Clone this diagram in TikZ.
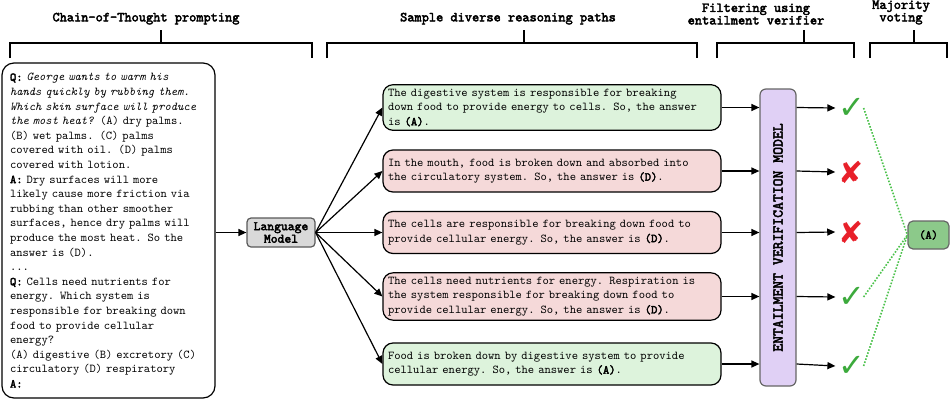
\documentclass[tikz,border=0pt]{standalone}
\usepackage{fontspec}
\setmonofont{lmmono10-regular.otf}[ItalicFont=lmmono10-italic.otf,
    BoldFont=lmmono10-regular.otf, BoldFeatures={FakeBold=3}]
\newfontfamily\symfont{DejaVu Sans}
\usetikzlibrary{positioning}
\usetikzlibrary{arrows.meta}

\definecolor{okfill}{HTML}{DDF3DC}
\definecolor{badfill}{HTML}{F5D9D9}
\definecolor{evfill}{HTML}{E0D0F5}
\definecolor{lmfill}{HTML}{D9D9D9}
\definecolor{ansfill}{HTML}{8CC98A}
\definecolor{okmark}{HTML}{3CAA3C}
\definecolor{badmark}{HTML}{E8202A}
\definecolor{votedot}{HTML}{4CC24C}

\tikzset{
    body/.style={font=\ttfamily\fontsize{12}{14.6}\selectfont},
    header/.style={font=\ttfamily\bfseries\fontsize{13.7}{12.5}\selectfont, align=center, anchor=south},
    bracket/.style={line width=1.2pt},
    path box/.style={body, draw, line width=1.2pt, rounded corners=10pt, text width=328pt,
        inner xsep=5pt, inner ysep=4pt, align=left, minimum height=42pt},
    okpath/.style={path box, fill=okfill},
    badpath/.style={path box, fill=badfill},
    arr/.style={-{Triangle[length=8pt,width=7pt]}, line width=1.2pt},
    okmark/.style={font=\symfont\fontsize{32}{32}\selectfont, text=okmark, inner sep=0pt},
    badmark/.style={font=\symfont\fontsize{30}{30}\selectfont, text=badmark, inner sep=0pt},
    vote/.style={votedot, line width=1.6pt, dash pattern=on 1.6pt off 1.6pt}
}

\begin{document}
\begin{tikzpicture}[x=1pt,y=-1pt]
    \useasboundingbox (0,0) rectangle (950,400);

    \node[header] (hdcot) at (146,28) {Chain-of-Thought prompting};
    \node[header] (hdpath) at (508,28) {Sample diverse reasoning paths};
    \node[header] (hdfilt) at (756,28) {Filtering using\\entailment verifier};
    \node[header] (hdvote) at (901,28) {Majority\\voting};

    \draw[bracket] (10,58) -- (10,43) -- (312,43) -- (312,58) (161,43) -- (161,30);
    \draw[bracket] (327,58) -- (327,43) -- (697,43) -- (697,58) (524,43) -- (524,30);
    \draw[bracket] (717,58) -- (717,43) -- (854,43) -- (854,58) (804,43) -- (804,30);
    \draw[bracket] (870,58) -- (870,43) -- (947,43) -- (947,58) (914,43) -- (914,30);

    \node[body, draw, line width=1.2pt, rounded corners=12pt, text width=197pt, inner xsep=8pt,
        minimum height=335pt, align=left] (cot) at (108.5,230.5) {%
        \textbf{Q:} \textit{George wants to warm his}\\
        \textit{hands quickly by rubbing them.}\\
        \textit{Which skin surface will produce}\\
        \textit{the most heat?} (A) dry palms.\\
        (B) wet palms. (C) palms\\
        covered with oil. (D) palms\\
        covered with lotion.\\
        \textbf{A:} Dry surfaces will more\\
        likely cause more friction via\\
        rubbing than other smoother\\
        surfaces, hence dry palms will\\
        produce the most heat. So the\\
        answer is (D).\\
        ...\\
        \textbf{Q:} Cells need nutrients for\\
        energy. Which system is\\
        responsible for breaking down\\
        food to provide cellular\\
        energy?\\
        (A) digestive (B) excretory (C)\\
        circulatory (D) respiratory\\
        \textbf{A:}};

    \node[draw=black!65, fill=lmfill, line width=1.2pt, rounded corners=4pt, minimum width=68pt,
        minimum height=29pt, inner sep=1pt, align=center,
        font=\ttfamily\bfseries\fontsize{13}{12.5}\selectfont] (lm) at (281,232.5) {Language\\Model};

    \node[okpath] (p1) at (552,107.5) {The digestive system is responsible for breaking\\
        down food to provide energy to cells. So, the answer\\is \textbf{(A)}.};
    \node[badpath] (p2) at (552,171) {In the mouth, food is broken down and absorbed into\\
        the circulatory system. So, the answer is \textbf{(D)}.};
    \node[badpath] (p3) at (552,232.5) {The cells are responsible for breaking down food to\\
        provide cellular energy. So, the answer is \textbf{(D)}.};
    \node[badpath] (p4) at (552,296.5) {The cells need nutrients for energy. Respiration is\\
        the system responsible for breaking down food to\\
        provide cellular energy. So, the answer is \textbf{(D)}.};
    \node[okpath] (p5) at (552,364) {Food is broken down by digestive system to provide\\
        cellular energy. So, the answer is \textbf{(A)}.};

    \node[draw=black!60, fill=evfill, line width=1.2pt, rounded corners=6pt, minimum width=36pt,
        minimum height=297pt] (ev) at (778,237.5) {};
    \node[rotate=90, font=\ttfamily\bfseries\fontsize{15}{15}\selectfont] at (ev.center) {ENTAILMENT VERIFICATION MODEL};

    \node[okmark] (m1) at (852,108) {✓};
    \node[badmark] (m2) at (851,172) {✘};
    \node[badmark] (m3) at (851,232) {✘};
    \node[okmark] (m4) at (852,297) {✓};
    \node[okmark] (m5) at (852,366) {✓};

    \node[draw=black!60, fill=ansfill, line width=1.2pt, rounded corners=5pt, minimum width=41pt,
        minimum height=28pt, font=\ttfamily\bfseries\fontsize{12}{12}\selectfont] (ans) at (928.5,235) {(A)};

    \draw[arr] (cot.east |- lm.west) -- (lm.west);
    \foreach \i in {1,...,5}{
        \draw[arr] (lm.east) -- (p\i.west);
        \draw[arr] (p\i.east) -- (p\i.east -| ev.west);
        \draw[arr] (p\i.east -| ev.east) -- ([xshift=-3pt]m\i.west);
    }
    \foreach \i in {1,4,5}
        \draw[vote] ([xshift=-2pt]m\i.east) -- (ans.west);
\end{tikzpicture}
\end{document}
